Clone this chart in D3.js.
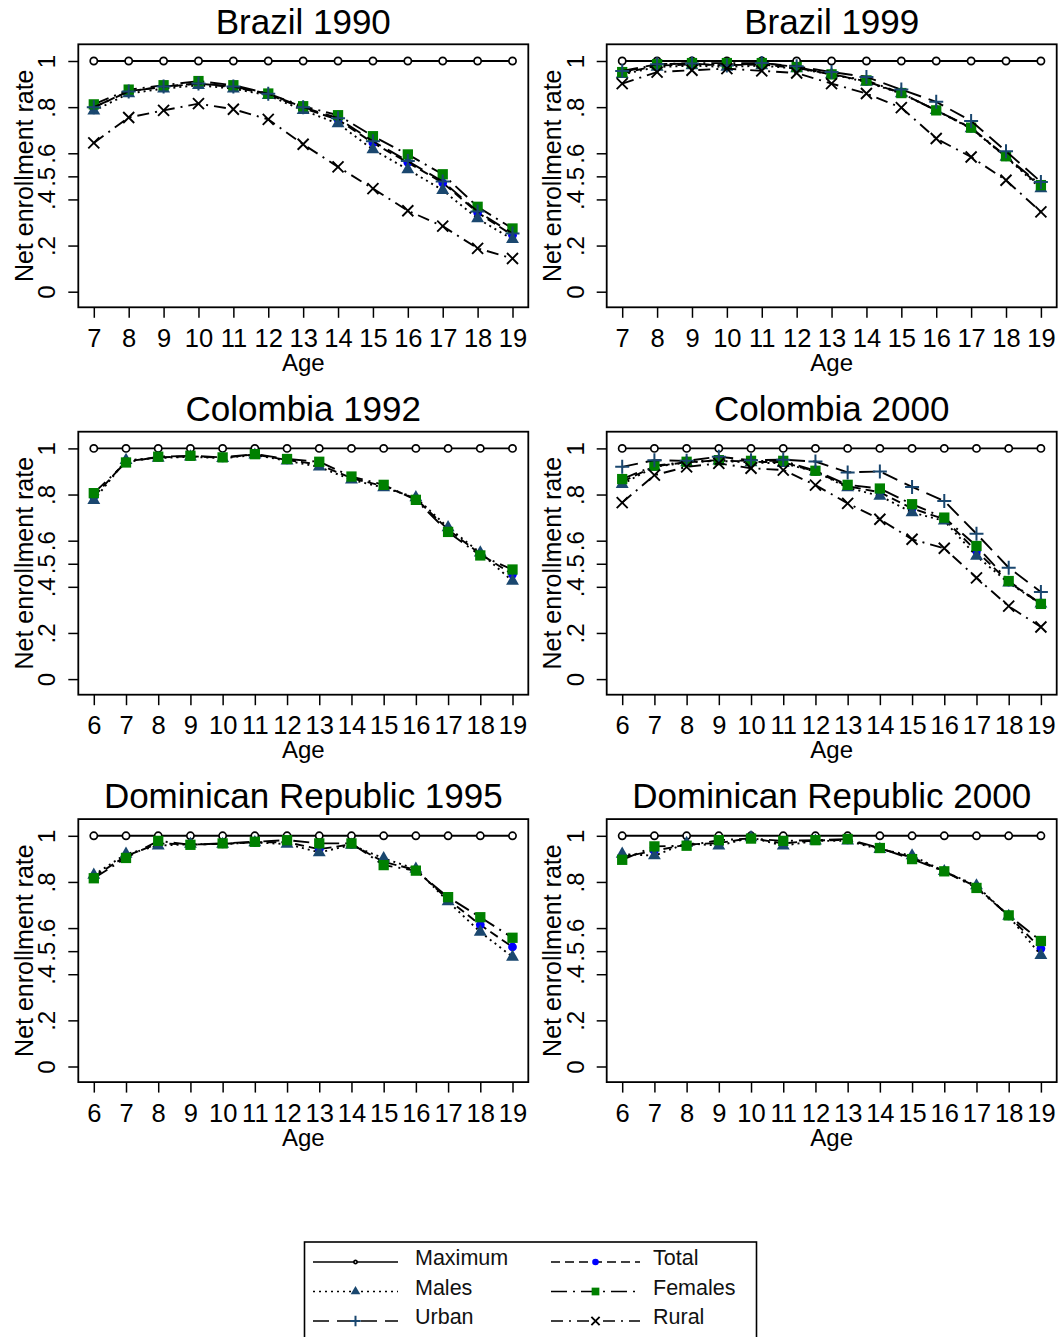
<!DOCTYPE html>
<html>
<head>
<meta charset="utf-8">
<script src="https://cdn.jsdelivr.net/npm/d3@7/dist/d3.min.js"></script>
<style>
  body { margin: 0; background: #fff; }
  svg { display: block; font-family: "Liberation Sans", Arial, sans-serif; }
</style>
</head>
<body>
<svg id="chart" width="1061" height="1337"></svg>
<script>
// ages shown on the x axis
const ages7 = [7, 8, 9, 10, 11, 12, 13, 14, 15, 16, 17, 18, 19];
const ages6 = [6, 7, 8, 9, 10, 11, 12, 13, 14, 15, 16, 17, 18, 19];

const max7 = [1, 1, 1, 1, 1, 1, 1, 1, 1, 1, 1, 1, 1];
const max6 = [1, 1, 1, 1, 1, 1, 1, 1, 1, 1, 1, 1, 1, 1];

// Brazil 1990
const bra90Total   = [0.798, 0.870, 0.887, 0.902, 0.887, 0.856, 0.795, 0.746, 0.645, 0.560, 0.472, 0.343, 0.245];
const bra90Males   = [0.784, 0.859, 0.880, 0.895, 0.880, 0.851, 0.786, 0.729, 0.616, 0.530, 0.440, 0.317, 0.227];
const bra90Females = [0.812, 0.876, 0.895, 0.913, 0.895, 0.859, 0.804, 0.765, 0.674, 0.595, 0.509, 0.368, 0.274];
const bra90Urban   = [0.800, 0.868, 0.889, 0.903, 0.889, 0.858, 0.800, 0.752, 0.652, 0.566, 0.478, 0.348, 0.252];
const bra90Rural   = [0.645, 0.755, 0.786, 0.815, 0.791, 0.747, 0.639, 0.541, 0.447, 0.351, 0.284, 0.188, 0.144];

// Brazil 1999
const bra99Total   = [0.947, 0.980, 0.985, 0.982, 0.985, 0.970, 0.942, 0.912, 0.860, 0.786, 0.709, 0.585, 0.455];
const bra99Males   = [0.942, 0.974, 0.980, 0.974, 0.980, 0.967, 0.942, 0.909, 0.859, 0.786, 0.707, 0.584, 0.447];
const bra99Females = [0.952, 0.986, 0.991, 0.991, 0.991, 0.974, 0.942, 0.916, 0.861, 0.786, 0.711, 0.587, 0.462];
const bra99Urban   = [0.957, 0.986, 0.989, 0.980, 0.991, 0.977, 0.952, 0.931, 0.876, 0.823, 0.740, 0.609, 0.476];
const bra99Rural   = [0.902, 0.952, 0.960, 0.967, 0.957, 0.948, 0.902, 0.859, 0.798, 0.664, 0.584, 0.483, 0.346];

// Colombia 1992
const col92Total   = [0.790, 0.944, 0.961, 0.966, 0.959, 0.974, 0.950, 0.930, 0.871, 0.836, 0.782, 0.648, 0.542, 0.454];
const col92Males   = [0.775, 0.949, 0.958, 0.964, 0.957, 0.972, 0.946, 0.920, 0.864, 0.830, 0.787, 0.657, 0.548, 0.425];
const col92Females = [0.806, 0.939, 0.964, 0.968, 0.961, 0.975, 0.954, 0.942, 0.878, 0.842, 0.777, 0.638, 0.536, 0.475];

// Colombia 2000
const col00Total   = [0.856, 0.922, 0.940, 0.948, 0.942, 0.940, 0.900, 0.836, 0.810, 0.740, 0.693, 0.555, 0.421, 0.326];
const col00Males   = [0.845, 0.920, 0.939, 0.946, 0.939, 0.935, 0.900, 0.830, 0.794, 0.722, 0.686, 0.533, 0.417, 0.326];
const col00Females = [0.867, 0.925, 0.942, 0.949, 0.946, 0.946, 0.903, 0.842, 0.826, 0.758, 0.700, 0.577, 0.425, 0.326];
const col00Urban   = [0.920, 0.949, 0.946, 0.964, 0.949, 0.951, 0.943, 0.896, 0.900, 0.833, 0.772, 0.630, 0.483, 0.378];
const col00Rural   = [0.765, 0.884, 0.920, 0.935, 0.914, 0.906, 0.841, 0.762, 0.693, 0.606, 0.567, 0.439, 0.316, 0.226];

// Dominican Republic 1995
const dom95Total   = [0.823, 0.912, 0.967, 0.962, 0.965, 0.972, 0.972, 0.942, 0.963, 0.887, 0.852, 0.724, 0.614, 0.518];
const dom95Males   = [0.830, 0.921, 0.957, 0.964, 0.964, 0.971, 0.964, 0.928, 0.960, 0.902, 0.856, 0.715, 0.583, 0.475];
const dom95Females = [0.816, 0.904, 0.978, 0.961, 0.967, 0.974, 0.981, 0.967, 0.967, 0.873, 0.849, 0.734, 0.647, 0.558];

// Dominican Republic 2000
const dom00Total   = [0.908, 0.935, 0.962, 0.969, 0.990, 0.967, 0.980, 0.982, 0.945, 0.906, 0.846, 0.779, 0.653, 0.511];
const dom00Males   = [0.921, 0.914, 0.968, 0.957, 0.993, 0.957, 0.978, 0.978, 0.942, 0.914, 0.846, 0.784, 0.652, 0.482];
const dom00Females = [0.896, 0.954, 0.957, 0.981, 0.988, 0.978, 0.981, 0.986, 0.947, 0.899, 0.846, 0.774, 0.655, 0.544];

const yTicks = [0, 0.2, 0.4, 0.5, 0.6, 0.8, 1];
const yTickLabels = ["0", ".2", ".4", ".5", ".6", ".8", "1"];

const panels = [
  { title: "Brazil 1990", ages: ages7, maximum: max7, total: bra90Total, males: bra90Males, females: bra90Females, urban: bra90Urban, rural: bra90Rural },
  { title: "Brazil 1999", ages: ages7, maximum: max7, total: bra99Total, males: bra99Males, females: bra99Females, urban: bra99Urban, rural: bra99Rural },
  { title: "Colombia 1992", ages: ages6, maximum: max6, total: col92Total, males: col92Males, females: col92Females },
  { title: "Colombia 2000", ages: ages6, maximum: max6, total: col00Total, males: col00Males, females: col00Females, urban: col00Urban, rural: col00Rural },
  { title: "Dominican Republic 1995", ages: ages6, maximum: max6, total: dom95Total, males: dom95Males, females: dom95Females },
  { title: "Dominican Republic 2000", ages: ages6, maximum: max6, total: dom00Total, males: dom00Males, females: dom00Females }
];

const navy = "#1a476f";
// draw order follows the legend order of the original
const series = [
  { key: "maximum", label: "Maximum", dash: null,         marker: "ocircle",  color: "#000" },
  { key: "total",   label: "Total",   dash: "9,5",        marker: "circle",   color: "#0000ff" },
  { key: "males",   label: "Males",   dash: "2,4",        marker: "triangle", color: navy },
  { key: "females", label: "Females", dash: "16,6,2,6",   marker: "square",   color: "#008000" },
  { key: "urban",   label: "Urban",   dash: "16,8",       marker: "plus",     color: navy },
  { key: "rural",   label: "Rural",   dash: "12,6,2,6",   marker: "cross",    color: "#000" }
];

const colStep = 528.4, rowStep = 387.4;
const box = { left: 78.3, right: 528.3, top: 44.3, bottom: 307.3 };

const svg = d3.select("#chart");

function drawMarker(sel, type, color, s) {
  if (type === "ocircle") {
    sel.append("circle").attr("r", 3.6 * s).attr("fill", "#fff")
      .attr("stroke", color).attr("stroke-width", 1.7);
  } else if (type === "circle") {
    sel.append("circle").attr("r", 4.4 * s).attr("fill", color);
  } else if (type === "triangle") {
    sel.append("path").attr("d", d3.symbol(d3.symbolTriangle, 72 * s * s)()).attr("fill", color);
  } else if (type === "square") {
    sel.append("path").attr("d", d3.symbol(d3.symbolSquare, 106 * s * s)()).attr("fill", color);
  } else if (type === "plus") {
    const h = 7 * s;
    sel.append("path").attr("d", `M${-h},0H${h}M0,${-h}V${h}`)
      .attr("stroke", color).attr("stroke-width", 2).attr("fill", "none");
  } else if (type === "cross") {
    const h = 5.5 * s;
    sel.append("path").attr("d", `M${-h},${-h}L${h},${h}M${-h},${h}L${h},${-h}`)
      .attr("stroke", color).attr("stroke-width", 1.9).attr("fill", "none");
  }
}

panels.forEach((p, i) => {
  const g = svg.append("g")
    .attr("transform", `translate(${(i % 2) * colStep},${Math.floor(i / 2) * rowStep})`);

  const x = d3.scaleLinear()
    .domain([p.ages[0], 19])
    .range([93.8, 512.5]);

  const y = d3.scaleLinear()
    .domain([0, 1])
    .range([291.7, 61]);

  // title
  g.append("text")
    .attr("x", (box.left + box.right) / 2)
    .attr("y", 33.5)
    .attr("text-anchor", "middle")
    .attr("font-size", 35)
    .text(p.title);

  // axes
  const yAxis = g.append("g")
    .attr("transform", `translate(${box.left},0)`)
    .call(d3.axisLeft(y).tickValues(yTicks).tickSize(10)
      .tickFormat((d, k) => yTickLabels[k]));
  yAxis.select(".domain").remove();
  yAxis.selectAll("line").attr("stroke", "#000").attr("stroke-width", 1.5);
  yAxis.selectAll("text")
    .attr("transform", "rotate(-90)")
    .attr("x", 0).attr("y", -23).attr("dy", 0)
    .attr("text-anchor", "middle")
    .attr("font-size", 24)
    .attr("font-family", "Liberation Sans, Arial, sans-serif")
    .attr("fill", "#000");

  const xAxis = g.append("g")
    .attr("transform", `translate(0,${box.bottom})`)
    .call(d3.axisBottom(x).tickValues(p.ages).tickSize(10.5).tickFormat(d3.format("d")));
  xAxis.select(".domain").remove();
  xAxis.selectAll("line").attr("stroke", "#000").attr("stroke-width", 1.5);
  xAxis.selectAll("text")
    .attr("y", 39.5).attr("dy", 0)
    .attr("font-size", 25.5)
    .attr("font-family", "Liberation Sans, Arial, sans-serif")
    .attr("fill", "#000");

  g.append("text")
    .attr("x", (box.left + box.right) / 2)
    .attr("y", 371)
    .attr("text-anchor", "middle")
    .attr("font-size", 24)
    .text("Age");

  g.append("text")
    .attr("transform", `translate(33,${(box.top + box.bottom) / 2}) rotate(-90)`)
    .attr("text-anchor", "middle")
    .attr("font-size", 25)
    .text("Net enrollment rate");

  // series
  const line = d3.line().x(d => x(d.age)).y(d => y(d.v));
  series.forEach(s => {
    const vals = p[s.key];
    if (!vals) return;
    const pts = p.ages.map((a, k) => ({ age: a, v: vals[k] }));
    g.append("path")
      .datum(pts)
      .attr("fill", "none")
      .attr("stroke", "#000")
      .attr("stroke-width", 1.9)
      .attr("stroke-dasharray", s.dash)
      .attr("d", line);
    g.selectAll(null)
      .data(pts)
      .enter()
      .append("g")
      .attr("transform", d => `translate(${x(d.age)},${y(d.v)})`)
      .each(function () { drawMarker(d3.select(this), s.marker, s.color, 1); });
  });

  // plot frame
  g.append("rect")
    .attr("x", box.left).attr("y", box.top)
    .attr("width", box.right - box.left).attr("height", box.bottom - box.top)
    .attr("fill", "none").attr("stroke", "#000").attr("stroke-width", 1.8);
});

// legend
const legend = svg.append("g");
legend.append("rect")
  .attr("x", 304.5).attr("y", 1242).attr("width", 452).attr("height", 130)
  .attr("fill", "#fff").attr("stroke", "#000").attr("stroke-width", 1.6);

const legendOrder = ["maximum", "males", "urban", "total", "females", "rural"];
legendOrder.forEach((key, k) => {
  const s = series.find(d => d.key === key);
  const col = Math.floor(k / 3), row = k % 3;
  const x0 = col === 0 ? 313 : 551;
  const x1 = col === 0 ? 398 : 640;
  const ly = 1262 + row * 29.5;
  const item = legend.append("g");
  item.append("line")
    .attr("x1", x0).attr("x2", x1).attr("y1", ly).attr("y2", ly)
    .attr("stroke", "#000").attr("stroke-width", 1.3)
    .attr("stroke-dasharray", s.dash);
  const m = item.append("g").attr("transform", `translate(${(x0 + x1) / 2},${ly})`);
  drawMarker(m, s.marker, s.color, s.marker === "ocircle" ? 0.45 : 0.75);
  item.append("text")
    .attr("x", col === 0 ? 415 : 653)
    .attr("y", ly + 3)
    .attr("font-size", 21.5)
    .attr("fill", "#111")
    .text(s.label);
});
</script>
</body>
</html>
